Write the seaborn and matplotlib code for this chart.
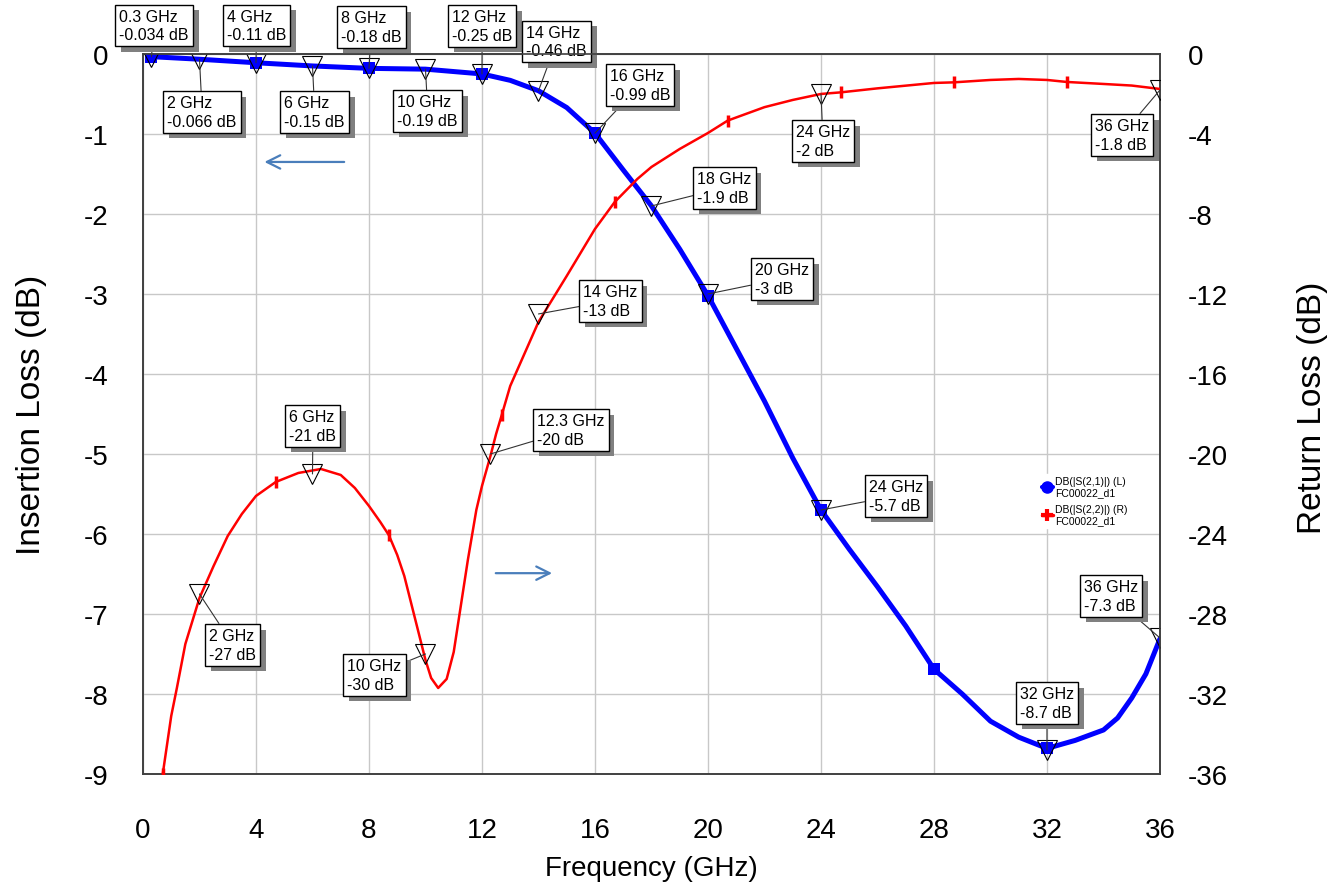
import numpy as np
import pandas as pd
import seaborn as sns
import matplotlib.pyplot as plt
import matplotlib.patheffects as pe
from matplotlib.lines import Line2D

sns.set_style('white')
plt.rcParams['font.family'] = ['Liberation Sans', 'DejaVu Sans']
plt.rcParams['axes.unicode_minus'] = False
plt.rcParams['text.color'] = 'black'
plt.rcParams['axes.labelcolor'] = 'black'
plt.rcParams['xtick.color'] = 'black'
plt.rcParams['ytick.color'] = 'black'

# insertion loss DB(|S(2,1)|), left axis
freq_s21 = [0.3, 2, 4, 6, 8, 10, 12, 13, 14, 15, 16, 17, 18, 19, 20, 21, 22, 23, 24,
            25, 26, 27, 28, 29, 30, 31, 32, 33, 34, 34.5, 35, 35.5, 36]
s21_db = [-0.034, -0.066, -0.11, -0.15, -0.18, -0.19, -0.25, -0.33, -0.46, -0.67, -0.99,
          -1.45, -1.9, -2.44, -3.02, -3.68, -4.34, -5.05, -5.7, -6.19, -6.66, -7.15, -7.69,
          -8.0, -8.34, -8.54, -8.68, -8.58, -8.45, -8.3, -8.05, -7.75, -7.31]

# return loss DB(|S(2,2)|), right axis
freq_s22 = [0.7, 1.0, 1.2, 1.5, 2, 2.5, 3, 3.5, 4, 4.7, 5.5, 6.3, 7, 7.5, 8, 8.4, 8.7, 9,
            9.25, 9.5, 9.75, 10, 10.2, 10.45, 10.75, 11, 11.25, 11.5, 11.8, 12, 12.3, 12.5,
            12.7, 13, 14, 15, 16, 16.7, 17.5, 18, 19, 20, 20.7, 22, 23, 24, 24.7, 26, 28,
            28.7, 30, 31, 32, 32.7, 34, 35, 36]
s22_db = [-36, -33.1, -31.7, -29.5, -27.2, -25.6, -24.1, -23.0, -22.1, -21.4, -20.95,
          -20.75, -21.05, -21.7, -22.6, -23.4, -24.05, -25.05, -26.1, -27.5, -28.9, -30.3,
          -31.2, -31.7, -31.25, -29.9, -27.6, -25.3, -22.8, -21.6, -20.1, -19.0, -18.05,
          -16.6, -13.4, -11.1, -8.75, -7.4, -6.25, -5.65, -4.75, -3.95, -3.33, -2.66, -2.3,
          -2.0, -1.92, -1.72, -1.45, -1.42, -1.3, -1.25, -1.3, -1.4, -1.5, -1.58, -1.75]

# trace symbols
s21_symbol_freq = [0.3, 4, 8, 12, 16, 20, 24, 28, 32]
s22_symbol_freq = [0.7, 4.7, 8.7, 12.7, 16.7, 20.7, 24.7, 28.7, 32.7]

# marker readouts
mk21_freq = [0.3, 2, 4, 6, 8, 10, 12, 14, 16, 18, 20, 24, 32, 36]
mk21_db = [-0.034, -0.066, -0.11, -0.15, -0.18, -0.19, -0.25, -0.46, -0.99, -1.9, -3, -5.7, -8.7, -7.3]
mk22_freq = [2, 6, 10, 12.3, 14, 24, 36]
mk22_db = [-27, -21, -30, -20, -13, -2, -1.8]

x_ticks = np.arange(0, 37, 4)
left_ticks = np.arange(-9, 1, 1)
right_ticks = np.arange(-36, 1, 4)

# box top-left offset from marker, in pixels
box21 = [(-36, -52), (-36, 32), (-33, -58), (-32, 25), (-32, -62), (-32, 21), (-34, -69),
         (-16, -70), (11, -69), (42, -39), (43, -36), (44, -35), (-31, -68), (-80, -63)]
box22 = [(6, 30), (-27, -69), (-82, 0), (43, -45), (41, -34), (-29, 26), (-69, 24)]

df21 = pd.DataFrame({'freq': freq_s21, 'db': s21_db})
df22 = pd.DataFrame({'freq': freq_s22, 'db': s22_db})

fig = plt.figure(figsize=(13.35, 8.95), dpi=100)
ax = fig.add_axes([0.1071, 0.1341, 0.7618, 0.8045])
ax2 = ax.twinx()

sns.lineplot(data=df21, x='freq', y='db', ax=ax, color='#0000ff', lw=3.6, marker='s', ms=9,
             mec='#0000ff', mew=0, markevery=[freq_s21.index(f) for f in s21_symbol_freq],
             legend=False, zorder=3)
sns.lineplot(data=df22, x='freq', y='db', ax=ax2, color='#ff0000', lw=1.8, marker='|', ms=9,
             mec='#ff0000', mew=2.5, markevery=[freq_s22.index(f) for f in s22_symbol_freq],
             legend=False, zorder=3)

sns.lineplot(x=mk21_freq, y=mk21_db, ax=ax, lw=0, marker='v', ms=14, mfc='none',
             mec='black', mew=0.8, legend=False, zorder=4)
sns.lineplot(x=mk22_freq, y=mk22_db, ax=ax2, lw=0, marker='v', ms=14, mfc='none',
             mec='black', mew=0.8, legend=False, zorder=4)


def readout(axis, f, v, off):
    dx, dy = off
    t = axis.annotate(f'{f:g} GHz\n{v:g} dB', xy=(f, v),
                      xytext=((dx + 4) * 0.72, -(dy + 4) * 0.72), textcoords='offset points',
                      ha='left', va='top', fontsize=11.5, linespacing=1.3,
                      bbox=dict(boxstyle='square,pad=0.25', fc='white', ec='black', lw=1),
                      arrowprops=dict(arrowstyle='-', color='#333333', lw=0.8,
                                      shrinkA=0, shrinkB=0),
                      zorder=6)
    t.get_bbox_patch().set_path_effects([
        pe.SimplePatchShadow(offset=(4, -4), shadow_rgbFace='#808080', alpha=1.0),
        pe.Normal()])


for f, v, off in zip(mk21_freq, mk21_db, box21):
    readout(ax, f, v, off)
for f, v, off in zip(mk22_freq, mk22_db, box22):
    readout(ax2, f, v, off)

# direction arrows
ax.annotate('', xy=(4.2, -1.35), xytext=(7.22, -1.35),
            arrowprops=dict(arrowstyle='->', color='#4a7ebb', lw=1.6, mutation_scale=24))
ax.annotate('', xy=(14.58, -6.49), xytext=(12.39, -6.49),
            arrowprops=dict(arrowstyle='->', color='#4a7ebb', lw=1.6, mutation_scale=24))

ax.set_xlim(0, 36)
ax.set_ylim(-9, 0)
ax2.set_ylim(-36, 0)
ax.set_xticks(x_ticks)
ax.set_yticks(left_ticks)
ax2.set_yticks(right_ticks)
ax.grid(True, color='#c8c8c8', lw=1)
ax.set_axisbelow(True)
ax2.grid(False)

ax.tick_params(axis='x', length=0, labelsize=20, pad=31)
ax.tick_params(axis='y', length=0, labelsize=20, pad=25)
ax2.tick_params(axis='y', length=0, labelsize=20, pad=20)

ax.set_xlabel('Frequency (GHz)', fontsize=20)
ax.set_ylabel('Insertion Loss (dB)', fontsize=24)
ax2.set_ylabel('Return Loss (dB)', fontsize=24)
ax.xaxis.set_label_coords(0.5, -0.112)
ax.yaxis.set_label_coords(-0.094, 0.5)
ax2.yaxis.set_label_coords(1.135, 0.51)

for a in (ax, ax2):
    for s in a.spines.values():
        s.set_color('#404040')
        s.set_linewidth(1.2)

handles = [Line2D([0], [0], color='#0000ff', lw=3, marker='o', ms=8),
           Line2D([0], [0], color='#ff0000', lw=2.5, marker='+', ms=9, mew=3)]
labels = ['DB(|S(2,1)|) (L)\nFC00022_d1', 'DB(|S(2,2)|) (R)\nFC00022_d1']
ax.legend(handles, labels, loc='upper left', bbox_to_anchor=(0.877, 0.424), fontsize=7.5,
          frameon=True, edgecolor='white', facecolor='white', framealpha=1, fancybox=False,
          handlelength=1.0, handletextpad=0.2, labelspacing=0.6, borderpad=0.2)

fig.savefig('out.png', dpi=100)
